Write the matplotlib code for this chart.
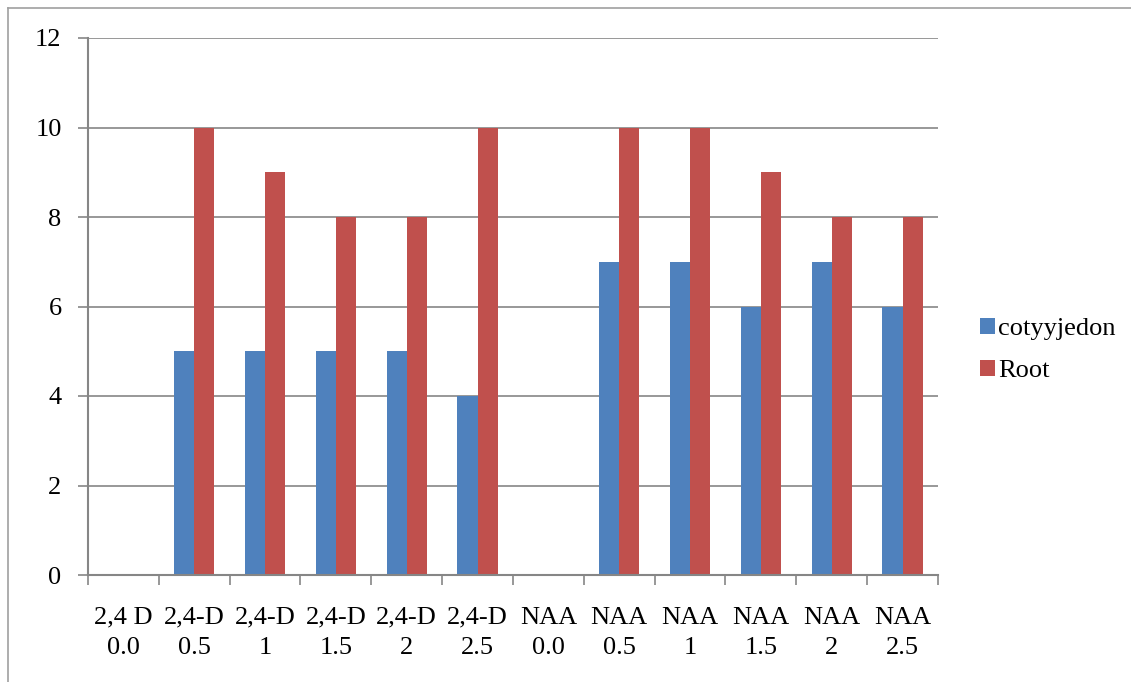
import numpy as np
import matplotlib.pyplot as plt
from matplotlib.patches import Patch
from matplotlib.lines import Line2D

plt.rcParams['font.family'] = ['Liberation Serif', 'DejaVu Serif']

# Datos
categorias = ["2,4 D\n0.0", "2,4-D\n0.5", "2,4-D\n1", "2,4-D\n1.5", "2,4-D\n2", "2,4-D\n2.5",
              "NAA\n0.0", "NAA\n0.5", "NAA\n1", "NAA\n1.5", "NAA\n2", "NAA\n2.5"]
cotiledon = [0, 5, 5, 5, 5, 4, 0, 7, 7, 6, 7, 6]
raiz = [0, 10, 9, 8, 8, 10, 0, 10, 10, 9, 8, 8]

azul = "#4f81bd"
rojo = "#c0504d"
gris = "#868686"

fig = plt.figure(figsize=(11.31, 6.82), dpi=100)
ax = fig.add_axes([88/1131, 1 - 575/682, 850/1131, 537/682])

x = np.arange(len(categorias))
ancho = 1 / 3.5
ax.bar(x - ancho/2, cotiledon, ancho, color=azul, label="cotyyjedon")
ax.bar(x + ancho/2, raiz, ancho, color=rojo, label="Root")

ax.set_xlim(-0.5, len(categorias) - 0.5)
ax.set_ylim(0, 12)
ax.set_yticks(range(0, 13, 2))
ax.yaxis.grid(True, color=gris, linewidth=1.2)
ax.set_axisbelow(True)

# ticks del eje x en los límites de categoría, etiquetas centradas
ax.set_xticks(np.arange(-0.5, len(categorias)), minor=False)
ax.set_xticklabels([])
ax.set_xticks(x, minor=True)
ax.set_xticklabels(categorias, minor=True, fontsize=19, linespacing=1.45)
ax.tick_params(axis='x', which='major', length=7, width=1.2, color=gris, direction='out')
ax.tick_params(axis='x', which='minor', length=0, pad=23)
ax.tick_params(axis='y', length=7, width=1.2, color=gris, labelsize=19, pad=12)

for lado in ['top', 'right']:
    ax.spines[lado].set_visible(False)
for lado in ['left', 'bottom']:
    ax.spines[lado].set_color(gris)
    ax.spines[lado].set_linewidth(1.5)

manejadores = [Patch(facecolor=azul), Patch(facecolor=rojo)]
fig.legend(manejadores, ["cotyyjedon", "Root"], loc='center left',
           bbox_to_anchor=(962/1131, 1 - 350/682), frameon=False, fontsize=19,
           handlelength=0.55, handleheight=0.55, handletextpad=0.12, labelspacing=0.75,
           borderpad=0.2)

# borde exterior del gráfico
fig.add_artist(Line2D([8/1131, 8/1131], [0, 1 - 8/682], color="#a0a0a0", linewidth=1.2))
fig.add_artist(Line2D([8/1131, 1], [1 - 8/682, 1 - 8/682], color="#a0a0a0", linewidth=1.2))

fig.savefig("out.png", dpi=100)
